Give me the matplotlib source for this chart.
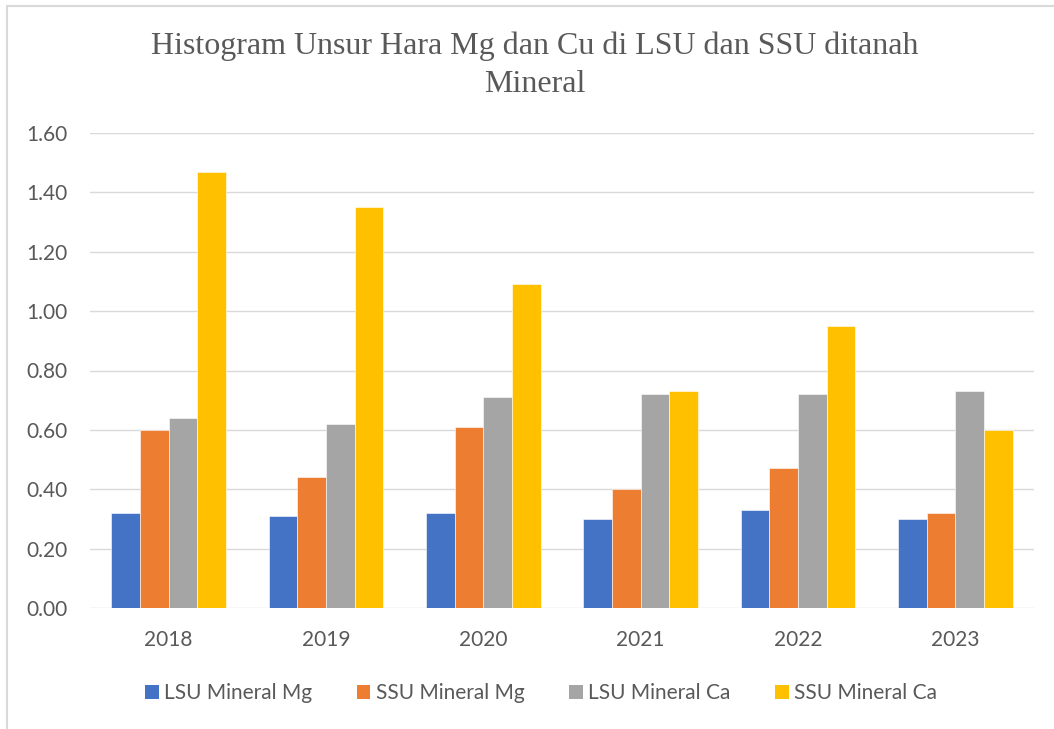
import matplotlib
matplotlib.use("Agg")
import matplotlib.pyplot as plt
import numpy as np
from matplotlib.patches import Patch, Rectangle

years = ["2018", "2019", "2020", "2021", "2022", "2023"]
lsu_mg = [0.32, 0.31, 0.32, 0.30, 0.33, 0.30]
ssu_mg = [0.60, 0.44, 0.61, 0.40, 0.47, 0.32]
lsu_ca = [0.64, 0.62, 0.71, 0.72, 0.72, 0.73]
ssu_ca = [1.47, 1.35, 1.09, 0.73, 0.95, 0.60]

series = [
    ("LSU Mineral Mg", lsu_mg, "#4472C4"),
    ("SSU Mineral Mg", ssu_mg, "#ED7D31"),
    ("LSU Mineral Ca", lsu_ca, "#A5A5A5"),
    ("SSU Mineral Ca", ssu_ca, "#FFC000"),
]

W, H = 1054, 729
fig = plt.figure(figsize=(W / 100, H / 100), dpi=100, facecolor="white")
# plot area in pixels: x 90..1034, y 133 (1.60) .. 608 (0.00)
ax = fig.add_axes([90 / W, 1 - 608 / H, 944 / W, 475 / H])

x = np.arange(len(years))
bw = 0.182
for i, (name, vals, col) in enumerate(series):
    ax.bar(x + (i - 1.5) * bw, vals, width=bw, color=col, edgecolor="white",
           linewidth=0.4, zorder=3)

ax.set_xlim(-0.5, len(years) - 0.5)
ax.set_ylim(0, 1.6)
ax.set_yticks(np.arange(0, 1.61, 0.2))
ax.set_yticklabels([f"{v:.2f}" for v in np.arange(0, 1.61, 0.2)])
ax.set_xticks(x)
ax.set_xticklabels(years)
ax.grid(axis="y", color="#D9D9D9", linewidth=1.0, zorder=0)
ax.tick_params(length=0, labelsize=15, labelcolor="#595959")
ax.tick_params(axis="y", pad=16)
ax.tick_params(axis="x", pad=16)
for lab in ax.get_xticklabels() + ax.get_yticklabels():
    lab.set_family("Lato")
for s in ax.spines.values():
    s.set_visible(False)
ax.set_axisbelow(True)

fig.text(535 / W, 1 - 46 / H, "Histogram Unsur Hara Mg dan Cu di LSU dan SSU ditanah",
         ha="center", va="center", fontsize=23, family="Liberation Serif", color="#595959")
fig.text(535 / W, 1 - 84 / H, "Mineral",
         ha="center", va="center", fontsize=23, family="Liberation Serif", color="#595959")

handles = [Patch(facecolor=c, edgecolor="none", label=n) for n, _, c in series]
fig.legend(handles=handles, loc="center", bbox_to_anchor=(541 / W, 1 - 693 / H), ncol=4,
           frameon=False, prop={"family": "Lato", "size": 15}, labelcolor="#595959",
           handlelength=0.65, handleheight=0.65, handletextpad=0.25, columnspacing=2.15)

# chart border
fig.add_artist(Rectangle((7 / W, -0.1), 1.2, 1 - 6 / H + 0.1, transform=fig.transFigure,
                         fill=False, edgecolor="#D9D9D9", linewidth=1.5))

fig.savefig("out.png", dpi=100, facecolor="white")
